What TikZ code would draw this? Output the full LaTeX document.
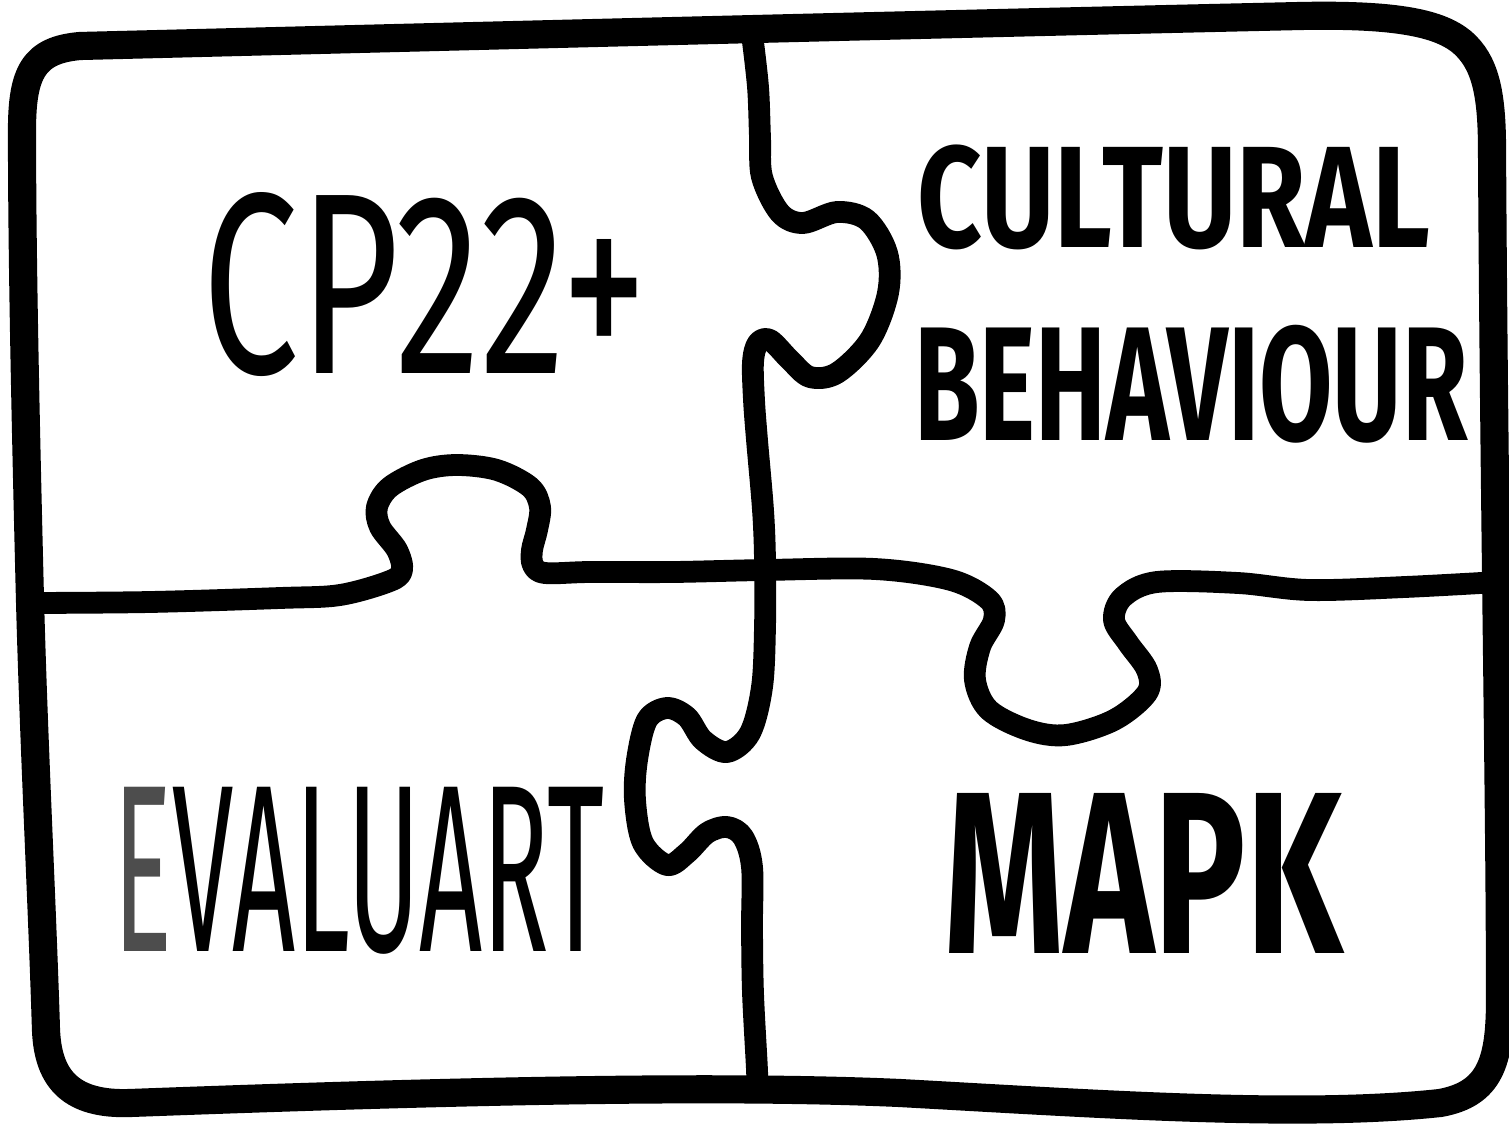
\documentclass[tikz,border=0pt]{standalone}
\usepackage{fontspec}
\setmainfont{Fira Sans}
\usepackage{graphicx}
\definecolor{egray}{HTML}{4D4D4D}
\begin{document}
\begin{tikzpicture}[x=0.01cm,y=-0.01cm,
  frame/.style={line width=8pt, line cap=round, line join=round},
  cut/.style={line width=6.2pt, line cap=round, line join=round},
  word/.style={inner sep=0pt, outer sep=0pt, anchor=center}]
\fill[white] (0,0) rectangle (1509,1127);
\useasboundingbox (0,0) rectangle (1509,1127);

% outer frame
\draw[frame] (30,600) .. controls (25,400) and (22,250) .. (22,130)
  .. controls (22,72) and (34,50) .. (80,46)
  .. controls (400,38) and (900,25) .. (1300,16)
  .. controls (1400,14) and (1440,24) .. (1462,42)
  .. controls (1485,62) and (1492,92) .. (1492,150)
  .. controls (1494,500) and (1500,800) .. (1500,1000)
  .. controls (1500,1062) and (1490,1094) .. (1440,1103)
  .. controls (1300,1118) and (1100,1104) .. (900,1093)
  .. controls (700,1084) and (400,1093) .. (130,1103)
  .. controls (72,1105) and (48,1080) .. (46,1030)
  .. controls (42,900) and (34,750) .. (30,600) -- cycle;

% vertical cut
\draw[cut] plot[smooth, tension=0.55] coordinates {
  (752,34) (758,87) (760,137) (762,177) (780,213) (803,223) (837,212)
  (867,220) (887,253) (888,293) (870,340) (837,373) (810,377) (790,360)
  (770,340) (758,343) (753,362) (754,400) (757,440) (763,510) (765,560)
  (765,627) (762,687) (750,733) (727,752) (703,740) (687,717) (667,708)
  (647,720) (637,760) (635,800) (643,843) (667,865) (687,853) (707,833)
  (727,827) (743,837) (752,867) (752,927) (753,993) (757,1070) (757,1086)};

% horizontal cut
\draw[cut] plot[smooth, tension=0.55] coordinates {
  (30,603) (150,602) (280,598) (340,595) (390,581) (402,570) (397,550)
  (380,527) (377,507) (390,487) (423,470) (457,465) (497,470) (530,487)
  (540,507) (537,530) (532,550) (533,565) (545,573) (590,572) (673,572)
  (765,570) (875,569) (951,580) (989,600) (994,620) (980,647) (975,680)
  (989,710) (1028,730) (1066,735) (1114,720) (1147,693) (1147,670)
  (1128,643) (1114,620) (1123,597) (1157,582) (1238,583) (1309,590)
  (1405,587) (1498,582)};

% labels
\node[word] (cp) at (425,285) {\resizebox*{4.44cm}{1.84cm}{CP22+}};
\node[word] (cult) at (1174,197) {\resizebox*{5.12cm}{1.05cm}{\bfseries CULTURAL}};
\node[word] (behav) at (1191,384) {\resizebox*{5.53cm}{1.18cm}{\bfseries BEHAVIOUR}};
\node[word] (eval) at (359,871) {\resizebox*{4.90cm}{1.67cm}{\textcolor{egray}{E}VALUART}};
\node[word] (mapk) at (1144,873) {\resizebox*{3.98cm}{1.60cm}{\bfseries MAPK}};
\end{tikzpicture}
\end{document}
